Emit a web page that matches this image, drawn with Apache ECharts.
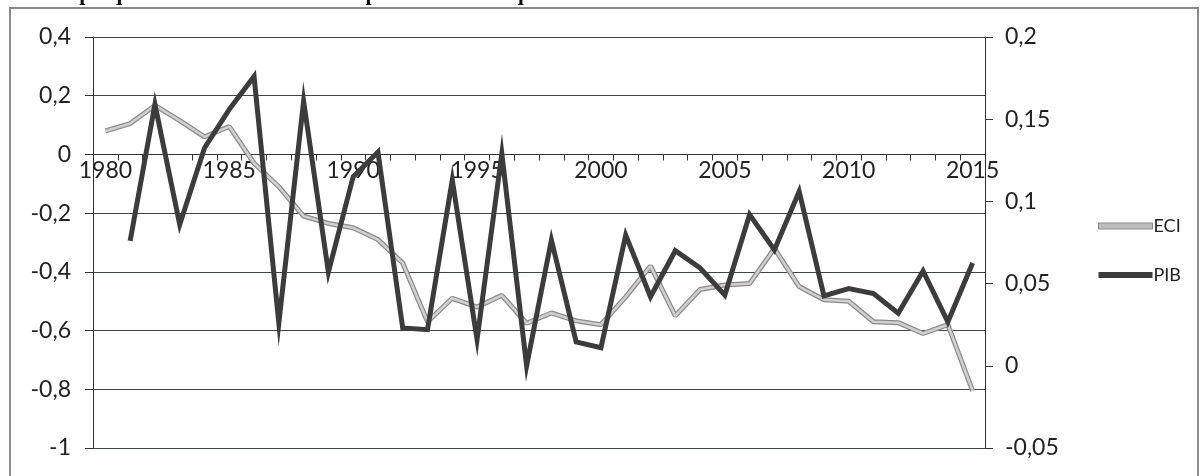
<!DOCTYPE html>
<html>
<head>
<meta charset="utf-8">
<script src="https://cdn.jsdelivr.net/npm/echarts@6/dist/echarts.min.js"></script>
<style>html,body{margin:0;padding:0;background:#fff;}#c{width:1202px;height:476px;}</style>
</head>
<body>
<div id="c"></div>
<script>
const years = ['1980','1981','1982','1983','1984','1985','1986','1987','1988','1989','1990','1991','1992','1993','1994','1995','1996','1997','1998','1999','2000','2001','2002','2003','2004','2005','2006','2007','2008','2009','2010','2011','2012','2013','2014','2015'];
const eci = [0.08,0.105,0.167,0.115,0.06,0.095,-0.03,-0.11,-0.21,-0.235,-0.25,-0.29,-0.37,-0.57,-0.49,-0.52,-0.48,-0.575,-0.54,-0.567,-0.58,-0.485,-0.38,-0.55,-0.46,-0.445,-0.44,-0.32,-0.45,-0.495,-0.5,-0.57,-0.573,-0.61,-0.58,-0.805];
const pib = [null,0.076,0.159,0.086,0.1325,0.156,0.176,0.026,0.161,0.057,0.115,0.130,0.023,0.022,0.113,0.016,0.129,0.0,0.0765,0.0145,0.011,0.0795,0.042,0.070,0.0595,0.043,0.092,0.0705,0.106,0.0425,0.047,0.044,0.032,0.0577,0.0267,0.0625];
const leftTicks = {min: -1, max: 0.4, step: 0.2};
const rightTicks = {min: -0.05, max: 0.2, step: 0.05};
const titleText = 'Graphique 1 : Evolution de la complexité économique et croissance du PIB';

const chart = echarts.init(document.getElementById('c'));
const fmt = v => String(Math.round(v*1000)/1000).replace('.', ',');
const font = 'Lato, "Open Sans", sans-serif';
const plotTop = 37, plotBottom = 448;
const zeroY = plotTop + (leftTicks.max - 0) / (leftTicks.max - leftTicks.min) * (plotBottom - plotTop);
chart.setOption({
  animation: false,
  backgroundColor: '#fff',
  graphic: [
    {type:'rect', shape:{x:10,y:8,width:1188,height:480}, style:{fill:'none', stroke:'#8a8a8a', lineWidth:2}, z:-1},
    {type:'text', style:{text:titleText, x:742, y:5.5, align:'right', verticalAlign:'bottom', textAlign:'right', textVerticalAlign:'bottom', font:'bold 22px "Liberation Serif", serif', fill:'#111'}}
  ],
  grid: [
    {left: 93, right: 217, top: plotTop, bottom: 476 - plotBottom},
    {left: 93, right: 217, top: plotTop, height: zeroY - plotTop}
  ],
  legend: {
    orient: 'vertical', left: 1093, top: 212, itemWidth: 54, itemHeight: 6, itemGap: 31,
    data: [
      {name:'ECI', icon:'rect', itemStyle:{color:'#bdbdbd', borderColor:'#8a8a8a', borderWidth:1}},
      {name:'PIB', icon:'rect', itemStyle:{color:'#3c3c3c'}}
    ],
    textStyle: {fontFamily: font, fontSize: 18, color: '#222', padding:[0,0,0,-4]}
  },
  xAxis: [
    {type: 'category', data: years, boundaryGap: true, gridIndex: 0,
     axisLine: {show: false}, axisTick: {show: false}, axisLabel: {show: false}, splitLine: {show: false}},
    {type: 'category', data: years, boundaryGap: true, gridIndex: 1, position: 'bottom',
     axisLine: {show: true, onZero: false, lineStyle: {color: '#333', width: 1}},
     axisTick: {show: true, interval: 0, length: 6, lineStyle: {color: '#333'}},
     axisLabel: {interval: 4, margin: 5, fontFamily: font, fontSize: 23, color: '#222'},
     splitLine: {show: false}}
  ],
  yAxis: [
    {type: 'value', gridIndex: 0, min: leftTicks.min, max: leftTicks.max, interval: leftTicks.step,
     axisLine: {show: true, lineStyle: {color: '#333'}},
     axisTick: {show: true, length: 8, lineStyle: {color: '#333'}},
     axisLabel: {formatter: fmt, margin: 22, fontFamily: font, fontSize: 23, color: '#222'},
     splitLine: {show: true, lineStyle: {color: '#3d4743', width: 1.2}}},
    {type: 'value', gridIndex: 0, min: rightTicks.min, max: rightTicks.max, interval: rightTicks.step, position: 'right',
     axisLine: {show: true, lineStyle: {color: '#333'}},
     axisTick: {show: true, length: 8, lineStyle: {color: '#333'}},
     axisLabel: {formatter: fmt, margin: 20, fontFamily: font, fontSize: 23, color: '#222'},
     splitLine: {show: false}},
    {type: 'value', gridIndex: 1, min: 0, max: leftTicks.max, show: false}
  ],
  series: [
    {name: 'ECI', type: 'line', xAxisIndex: 0, yAxisIndex: 0, data: eci, symbol: 'none', z: 3,
     lineStyle: {color: '#8a8a8a', width: 5}, itemStyle: {color: '#bdbdbd'}},
    {name: 'ECI-inner', type: 'line', xAxisIndex: 0, yAxisIndex: 0, data: eci, symbol: 'none', z: 4, silent: true,
     lineStyle: {color: '#d0d0d0', width: 2.5}},
    {name: 'PIB', type: 'line', xAxisIndex: 0, yAxisIndex: 1, data: pib, symbol: 'none', z: 5,
     lineStyle: {color: '#3c3c3c', width: 5, join: 'miter'}, itemStyle: {color: '#3c3c3c'}}
  ]
});
</script>
</body>
</html>
